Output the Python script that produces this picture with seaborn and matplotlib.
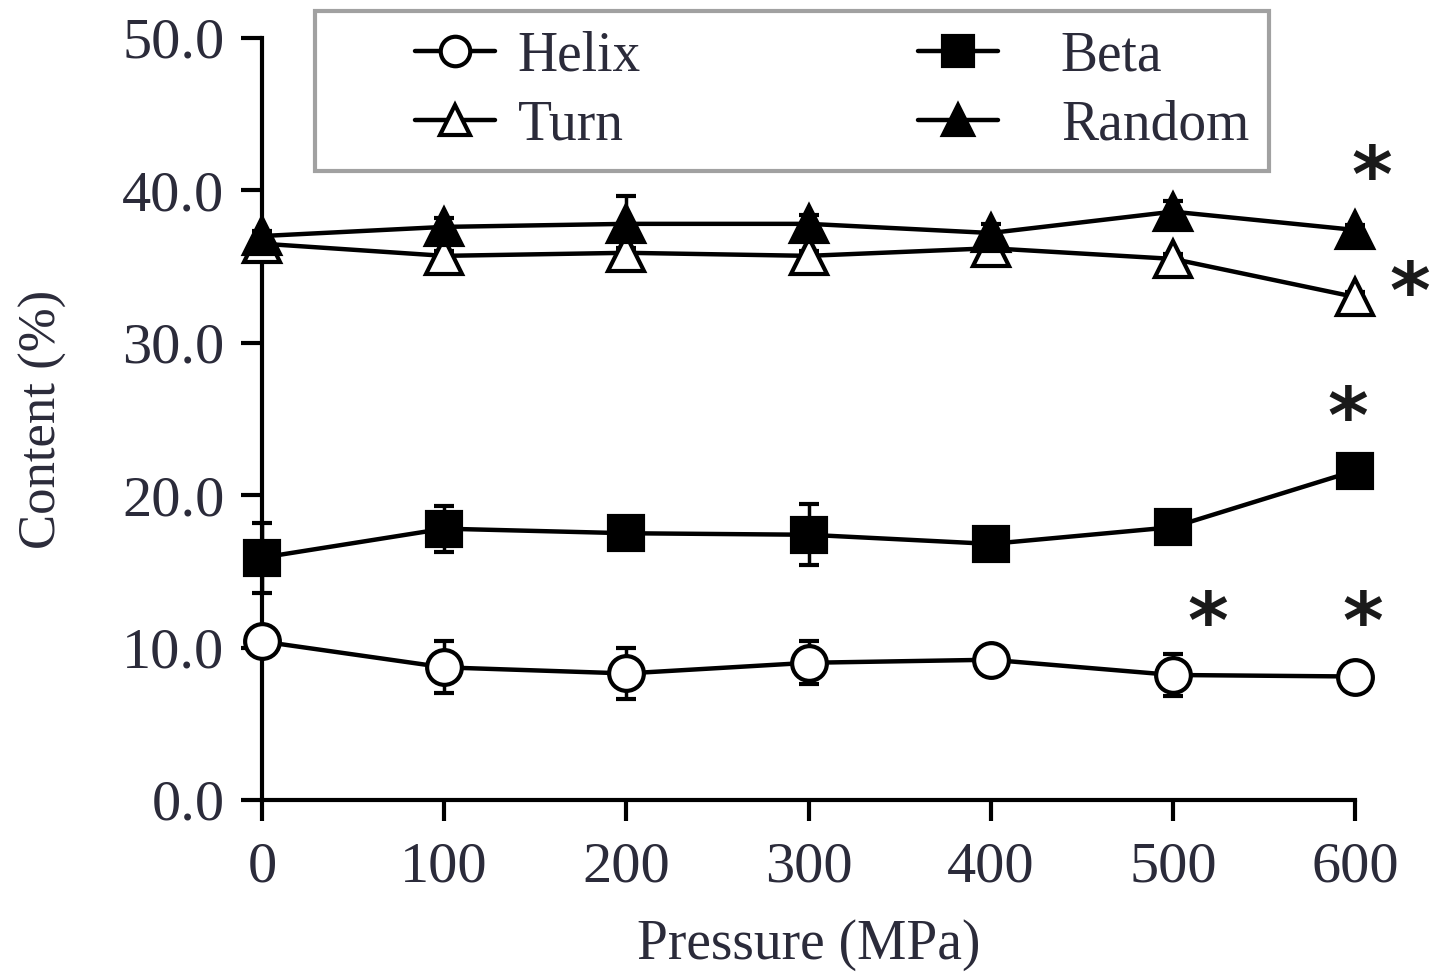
import matplotlib
matplotlib.use("Agg")
import matplotlib.pyplot as plt
import seaborn as sns
import pandas as pd
from matplotlib.legend_handler import HandlerLine2D

# Secondary structure content vs. pressure (mean ± SD)
pressure = [0, 100, 200, 300, 400, 500, 600]
helix = [10.4, 8.7, 8.3, 9.0, 9.2, 8.2, 8.1]
helix_err = [0.0, 1.7, 1.7, 1.4, 0.5, 1.4, 0.3]
beta = [15.9, 17.8, 17.5, 17.4, 16.8, 17.9, 21.6]
beta_err = [2.3, 1.5, 0.4, 2.0, 0.4, 0.4, 0.8]
turn = [36.5, 35.7, 35.9, 35.7, 36.2, 35.5, 33.0]
turn_err = [0.3, 0.3, 0.3, 0.3, 0.3, 0.3, 0.3]
random_coil = [37.0, 37.6, 37.8, 37.8, 37.2, 38.6, 37.4]
random_err = [0.3, 0.6, 1.8, 0.6, 0.6, 0.7, 0.3]

series_names = ["Helix", "Turn", "Beta", "Random"]

# significance marks (x, y) in data units
star_x = [609, 630, 596, 519, 604]
star_y = [40.7, 33.05, 24.85, 11.4, 11.4]

sns.set_style("ticks")
plt.rcParams["font.family"] = ["Liberation Serif", "DejaVu Serif"]

fig = plt.figure(figsize=(14.37, 9.72), dpi=100)
ax = fig.add_axes([0.1823, 0.177, 0.7607, 0.784])

text_col = "#2b2b3a"
styles = {
    "Helix": dict(marker="o", mfc="white", ms=25),
    "Turn": dict(marker="^", mfc="white", ms=26),
    "Beta": dict(marker="s", mfc="black", ms=25),
    "Random": dict(marker="^", mfc="black", ms=26),
}
values = {"Helix": (helix, helix_err), "Turn": (turn, turn_err),
          "Beta": (beta, beta_err), "Random": (random_coil, random_err)}

for name in series_names:
    vals, err = values[name]
    df = pd.DataFrame({"Pressure": pressure, "Content": vals})
    st = styles[name]
    ax.errorbar(pressure, vals, yerr=err, fmt="none", ecolor="black",
                elinewidth=2.5, capsize=7, capthick=3, zorder=2, clip_on=False)
    sns.lineplot(data=df, x="Pressure", y="Content", ax=ax, color="black",
                 linewidth=3.2, marker=st["marker"], markersize=st["ms"],
                 markerfacecolor=st["mfc"], markeredgecolor="black",
                 markeredgewidth=3, label=name, zorder=3, clip_on=False)

for sx, sy in zip(star_x, star_y):
    ax.text(sx, sy, "*", fontsize=56, ha="center", va="center",
            color="#1a1a1a", clip_on=False, family="DejaVu Sans",
            fontweight="bold")

ax.set_xlim(0, 600)
ax.set_ylim(0, 50)
ax.set_xticks(pressure)
ax.set_xticklabels([str(p) for p in pressure])
yt = [0, 10, 20, 30, 40, 50]
ax.set_yticks(yt)
ax.set_yticklabels([f"{v:.1f}" for v in yt])
ax.tick_params(axis="both", labelsize=42, width=3, length=15, colors="black",
               labelcolor=text_col)
ax.tick_params(axis="x", pad=15)
ax.tick_params(axis="y", pad=12)
ax.set_xlabel("Pressure (MPa)", fontsize=40, color=text_col, labelpad=18)
ax.set_ylabel("Content (%)", fontsize=38, color=text_col, labelpad=40)
for side in ["left", "bottom"]:
    ax.spines[side].set_linewidth(3)
    ax.spines[side].set_color("black")
sns.despine(ax=ax)


class InsetLineHandler(HandlerLine2D):
    """Draws the legend key as a short segment inside a wider key box."""

    def __init__(self, key_len, right_gap, **kw):
        super().__init__(**kw)
        self.key_len = key_len
        self.right_gap = right_gap

    def create_artists(self, legend, orig_handle, xdescent, ydescent,
                       width, height, fontsize, trans):
        start = width - (self.key_len + self.right_gap) * fontsize
        seg_w = self.key_len * fontsize
        return super().create_artists(legend, orig_handle, xdescent - start,
                                      ydescent, seg_w, height, fontsize, trans)


handles, labels = ax.get_legend_handles_labels()
hmap = {}
for h, lab in zip(handles, labels):
    gap = 0.0 if lab in ("Helix", "Turn") else 0.72
    hmap[h] = InsetLineHandler(1.44, gap)
leg = ax.legend(handles, labels, ncol=2, loc="upper left",
                bbox_to_anchor=(0.0485, 1.035), fontsize=40, frameon=True,
                fancybox=False, edgecolor="#8a8a8a", handlelength=2.89,
                handletextpad=0.41, columnspacing=4.26, borderpad=0.35,
                labelspacing=0.3, markerscale=0.85, borderaxespad=0,
                handler_map=hmap)
leg.get_frame().set_linewidth(3)
for t in leg.get_texts():
    t.set_color(text_col)

fig.savefig("out.png", dpi=100, facecolor="white")
